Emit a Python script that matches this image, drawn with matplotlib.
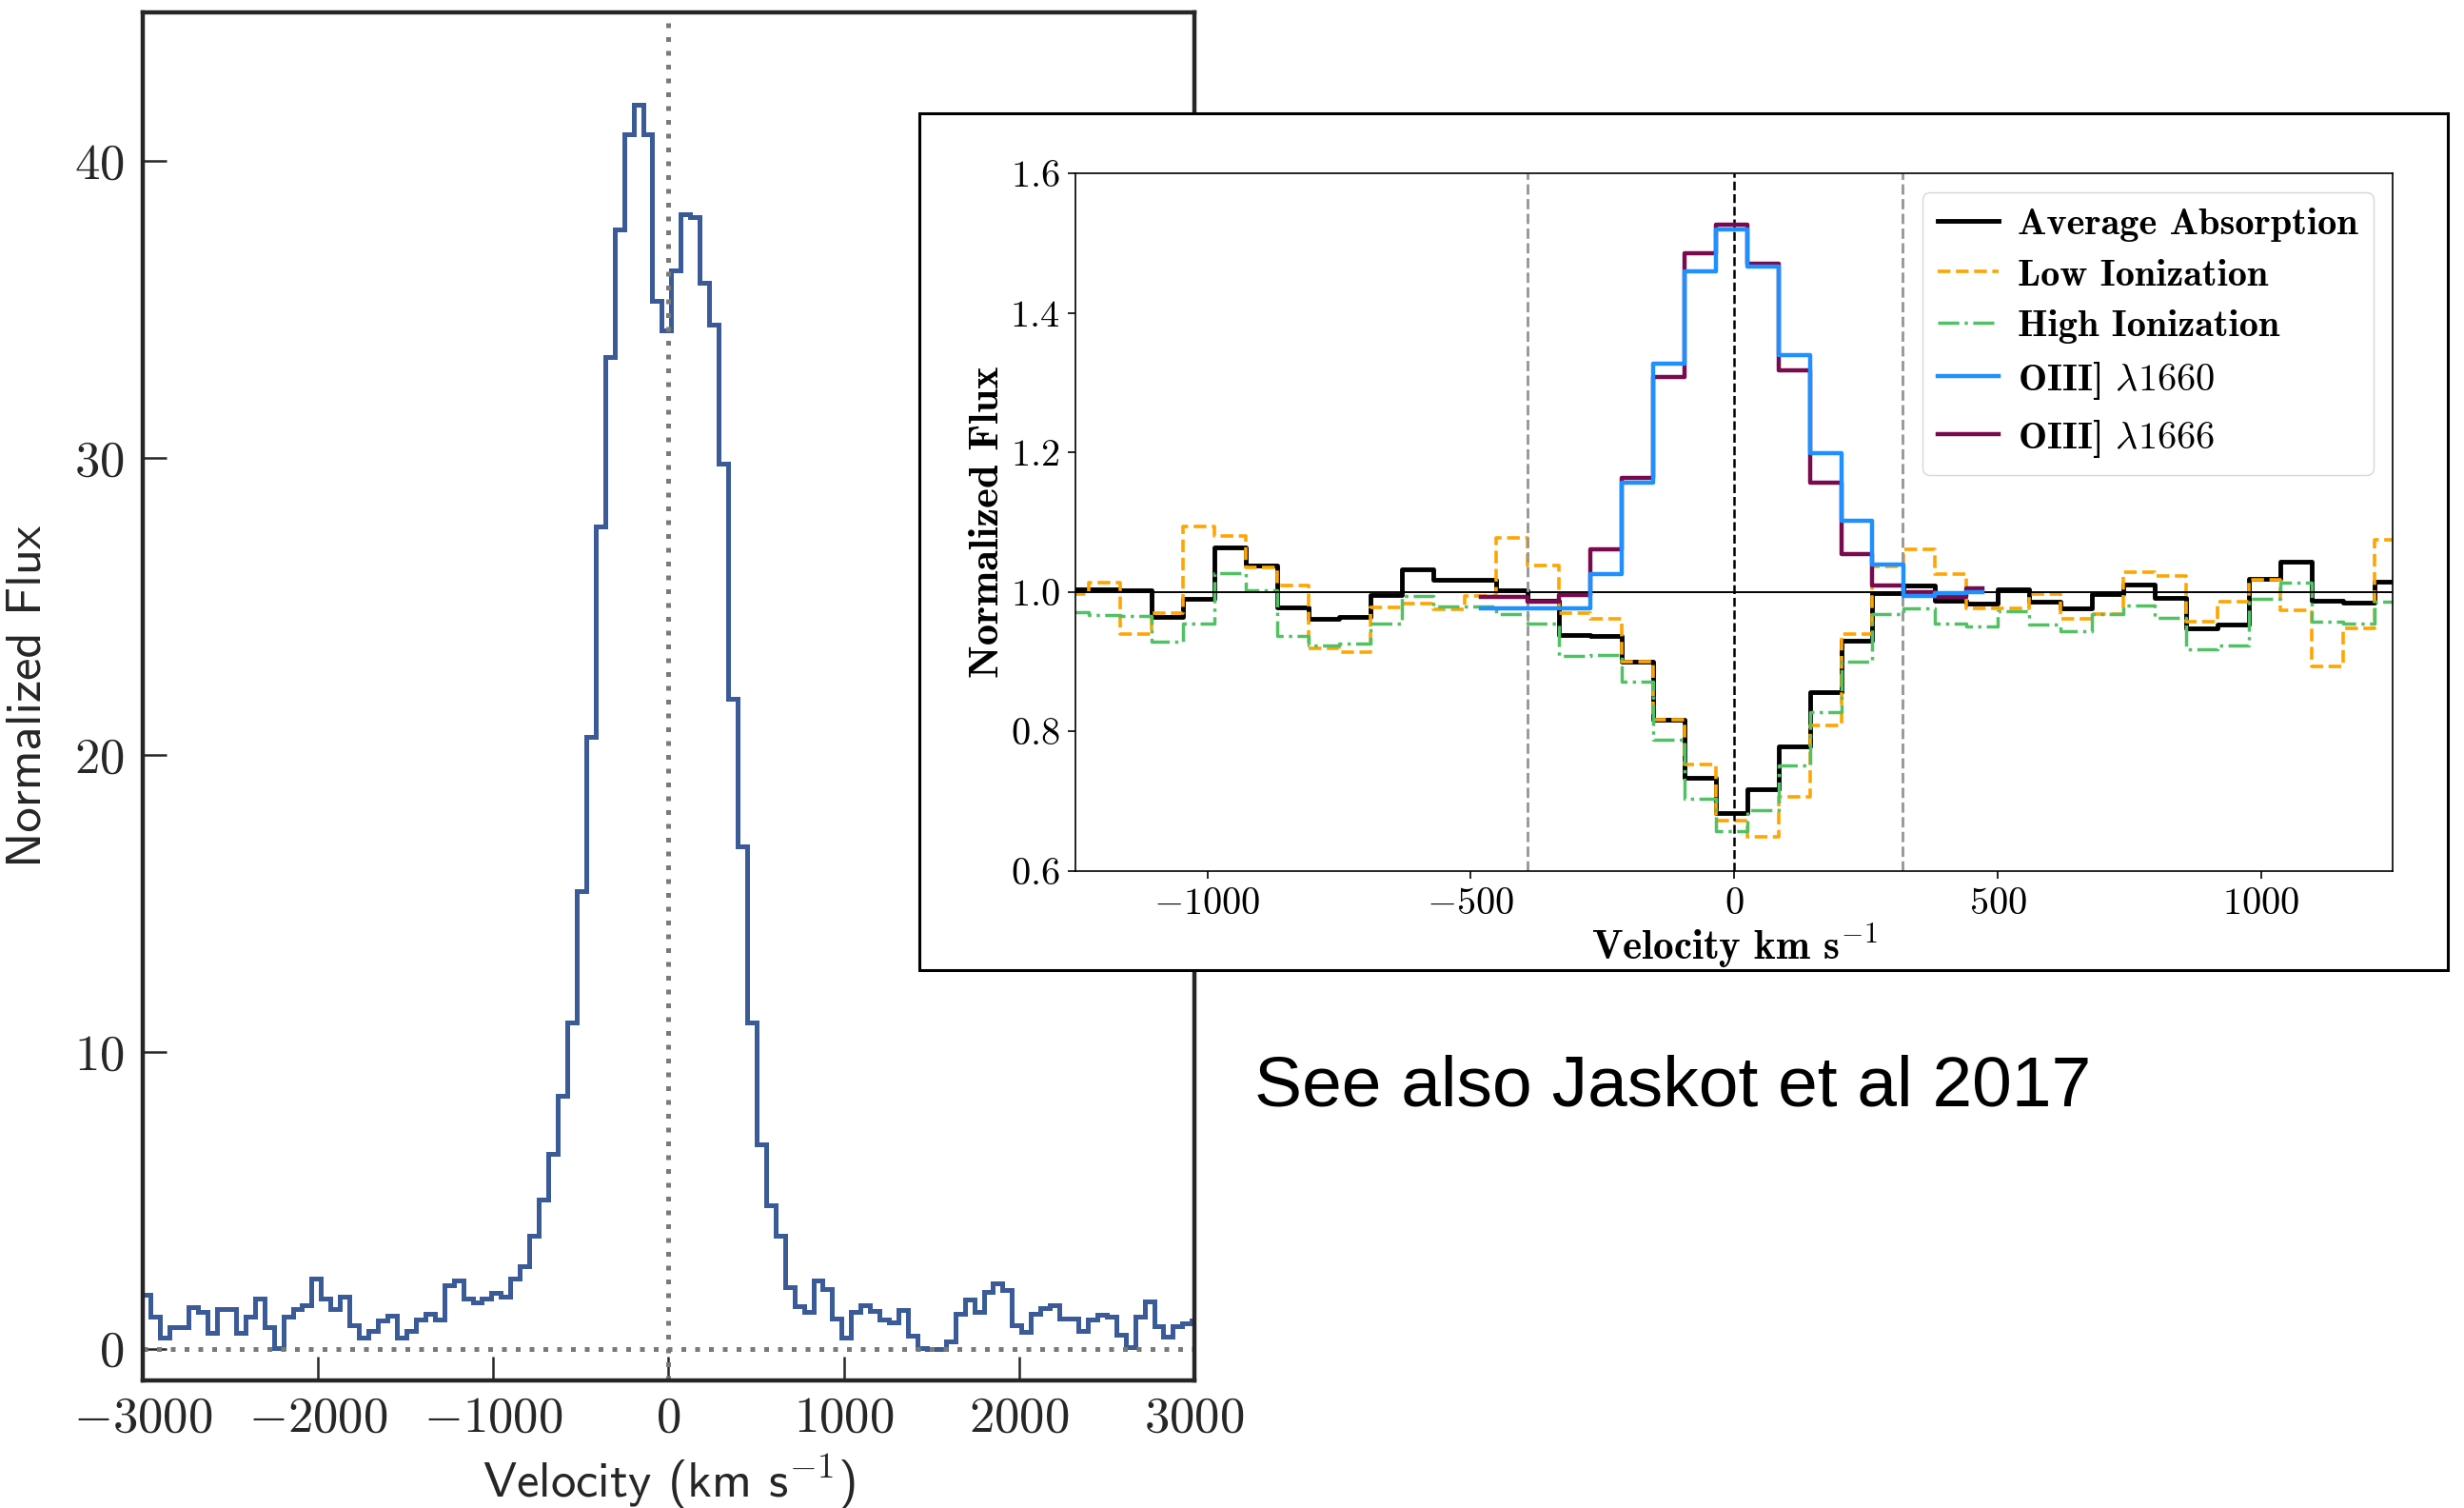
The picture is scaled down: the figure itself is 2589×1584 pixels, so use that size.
"""
Lya emission profile (left) with an inset figure of the stacked UV absorption
and OIII] emission profiles pasted over it.
"""

import numpy as np
import matplotlib
matplotlib.use("Agg")
import matplotlib.pyplot as plt
from matplotlib.patches import Rectangle

plt.rcParams["font.family"] = "serif"
plt.rcParams["font.serif"] = ["cmr10"]
plt.rcParams["mathtext.fontset"] = "cm"
plt.rcParams["axes.formatter.use_mathtext"] = True

# ---- left panel: Lya profile, 54 km/s bins starting at -3008 km/s ----
LYA_V0 = -3008.0
LYA_DV = 54.0
lya_flux = [
    1.81, 1.07, 0.37, 0.72, 0.72, 1.40, 1.23, 0.53, 1.34, 1.34,
    0.53, 1.07, 1.70, 0.72, 0.01, 1.07, 1.34, 1.45, 2.35, 1.70,
    1.34, 1.76, 0.78, 0.37, 0.59, 0.96, 1.12, 0.37, 0.59, 0.99,
    1.17, 0.99, 2.13, 2.29, 1.70, 1.55, 1.70, 1.87, 1.76, 2.35,
    2.78, 3.79, 5.02,
    6.56, 8.50, 11.0, 15.4, 20.6, 27.7, 33.4, 37.7, 40.9, 41.9,
    40.9, 35.3, 34.3, 36.3, 38.2, 38.1, 35.9, 34.5, 29.8, 21.9,
    16.9, 11.0, 6.88, 4.84,
    3.79, 2.08, 1.44, 1.25, 2.29, 2.00, 1.01, 0.37, 1.23, 1.47,
    1.28, 0.98, 0.87, 1.30, 0.43, 0.03, 0.00, 0.00, 0.23, 1.17,
    1.65, 1.25, 1.90, 2.19, 1.98, 0.80, 0.56, 1.17, 1.36, 1.47,
    1.01, 1.01, 0.61, 0.98, 1.14, 1.07, 0.48, 0.05, 1.09, 1.60,
    0.75, 0.39, 0.75, 0.86, 0.96,
]
lya_edges = LYA_V0 + LYA_DV * np.arange(len(lya_flux) + 1)

# ---- inset: stacked absorption, bin centres every 59.5 km/s ----
ABS_V0 = -1254.75
ABS_DV = 59.5
avg_abs = [
    1.004, 1.004, 1.003, 0.965, 0.990, 1.064, 1.038, 0.978, 0.962, 0.964,
    0.996, 1.033, 1.018, 1.017, 1.002, 0.987, 0.938, 0.937, 0.900, 0.817,
    0.734, 0.683, 0.718, 0.779, 0.857, 0.930, 0.998, 1.009, 0.988, 0.984,
    1.004, 0.986, 0.976, 0.997, 1.011, 0.992, 0.948, 0.953, 1.019, 1.044,
    0.988, 0.985, 1.015, 1.015,
]
low_ion = [
    0.997, 1.013, 0.940, 0.970, 1.094, 1.080, 1.035, 1.010, 0.919, 0.914,
    0.978, 0.983, 0.975, 0.995, 1.077, 1.038, 0.970, 0.962, 0.900, 0.817,
    0.753, 0.673, 0.649, 0.706, 0.809, 0.940, 1.037, 1.061, 1.026, 0.977,
    0.976, 0.997, 0.962, 0.969, 1.029, 1.023, 0.958, 0.986, 1.017, 0.974,
    0.894, 0.948, 1.075, 1.075,
]
high_ion = [
    0.971, 0.967, 0.966, 0.929, 0.955, 1.027, 1.002, 0.937, 0.924, 0.926,
    0.955, 0.994, 0.980, 0.979, 0.968, 0.955, 0.908, 0.910, 0.871, 0.789,
    0.704, 0.657, 0.687, 0.751, 0.828, 0.900, 0.969, 0.977, 0.955, 0.951,
    0.972, 0.953, 0.944, 0.969, 0.981, 0.963, 0.918, 0.924, 0.990, 1.014,
    0.958, 0.955, 0.986, 0.986,
]
# OIII] profiles cover bins 13..29 of the same grid
OIII_FIRST_BIN = 13
oiii_1660 = [
    0.977, 0.976, 0.976, 0.977, 1.026, 1.157, 1.327, 1.460, 1.520, 1.466,
    1.340, 1.199, 1.102, 1.039, 0.995, 0.998, 1.000,
]
oiii_1666 = [
    0.993, 0.993, 0.986, 0.996, 1.061, 1.164, 1.308, 1.485, 1.526, 1.471,
    1.318, 1.157, 1.054, 1.010, 1.000, 0.993, 1.005,
]
window = [-392, 320]

abs_v = ABS_V0 + ABS_DV * np.arange(len(avg_abs))
oiii_v = abs_v[OIII_FIRST_BIN:OIII_FIRST_BIN + len(oiii_1660)]

fig = plt.figure(figsize=(25.89, 15.84), dpi=100)

# Left panel
ax = fig.add_axes([0.0579, 0.0846, 0.4268, 0.9072])
dark = "#262626"
dots = (0, (1.0, 1.9))
ax.stairs(lya_flux, lya_edges, baseline=None, color="#3b5b98", lw=3.6)
ax.axhline(0, color="#7a7a7a", ls=dots, lw=3.6)
ax.axvline(0, color="#7a7a7a", ls=dots, lw=3.6)
ax.set_xlim(-3000, 3000)
ax.set_ylim(-1.07, 45)
ax.set_xticks([-3000, -2000, -1000, 0, 1000, 2000, 3000])
ax.set_yticks([0, 10, 20, 30, 40])
ax.tick_params(direction="in", length=18, width=1.8, labelsize=38,
               colors=dark)
ax.tick_params(axis="x", pad=12)
ax.tick_params(axis="y", pad=14)
for sp in ax.spines.values():
    sp.set_linewidth(3.2)
    sp.set_color(dark)
ax.set_xlabel("Velocity (km s$^{-1}$)", fontfamily="cmss10", fontsize=38,
              color=dark)
ax.set_ylabel("Normalized Flux", fontfamily="cmss10", fontsize=38,
              color=dark)
ax.xaxis.set_label_coords(0.5, -0.052)
ax.yaxis.set_label_coords(-0.088, 0.5)

# White pasted box for the inset figure
fig.add_artist(Rectangle((0.3731, 0.3567), 0.6203, 0.5682,
                         transform=fig.transFigure, facecolor="white",
                         edgecolor="black", lw=2.2, zorder=5))

# Inset
ax2 = fig.add_axes([0.4365, 0.4223, 0.5346, 0.4628], zorder=10)
ax2.step(abs_v, avg_abs, where="mid", color="black", lw=3.5,
         label="Average Absorption")
ax2.step(abs_v, low_ion, where="mid", color="orange", ls="--", lw=2.6,
         label="Low Ionization")
ax2.step(abs_v, high_ion, where="mid", color="#52c165", ls="-.", lw=2.5,
         label="High Ionization")
ax2.step(oiii_v, oiii_1660, where="mid", color="dodgerblue", lw=3.2,
         label=r"OIII] $\lambda1660$", zorder=3)
ax2.step(oiii_v, oiii_1666, where="mid", color="#7a0a4e", lw=3.2,
         label=r"OIII] $\lambda1666$", zorder=2.5)
ax2.axhline(1.0, color="black", lw=1.4)
ax2.axvline(0, color="black", ls="--", lw=1.8)
for w in window:
    ax2.axvline(w, color="#999999", ls="--", lw=2.1)
ax2.set_xlim(-1250, 1250)
ax2.set_ylim(0.6, 1.6)
ax2.set_yticks([0.6, 0.8, 1.0, 1.2, 1.4, 1.6])
ax2.set_xticks([-1000, -500, 0, 500, 1000])
ax2.tick_params(direction="out", length=6, width=1.2, labelsize=29, pad=6)
for sp in ax2.spines.values():
    sp.set_linewidth(1.2)
ax2.set_xlabel(r"Velocity km s$^{-1}$", fontfamily="cmb10", fontsize=31)
ax2.set_ylabel("Normalized Flux", fontfamily="cmb10", fontsize=32)
ax2.xaxis.set_label_coords(0.5, -0.072)
ax2.yaxis.set_label_coords(-0.052, 0.5)
ax2.legend(loc="upper right", prop={"family": "cmb10", "size": 29},
           handlelength=1.6, handletextpad=0.5, labelspacing=0.42,
           borderpad=0.4)

fig.text(0.509, 0.267, "See also Jaskot et al 2017",
         fontfamily="Liberation Sans", fontsize=54, va="baseline")

fig.savefig("out.png", dpi=100)
plt.close(fig)
